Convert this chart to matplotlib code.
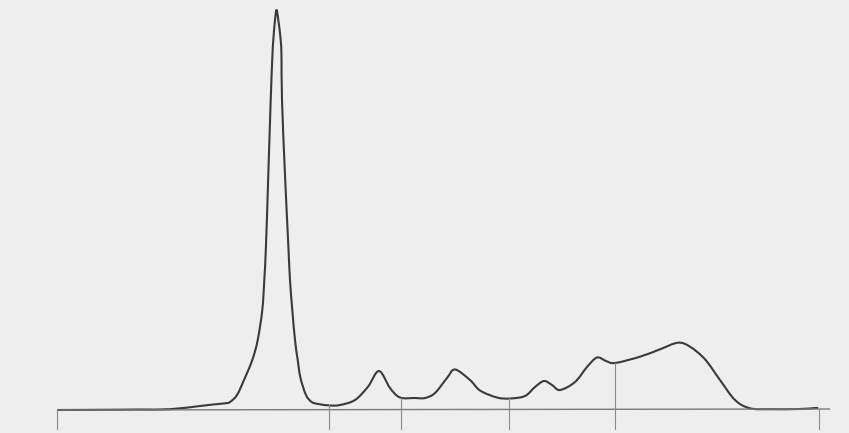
import numpy as np
import matplotlib
matplotlib.use("Agg")
import matplotlib.pyplot as plt
from matplotlib.path import Path
from matplotlib.patches import PathPatch

# Densitometry trace: position along strip (arbitrary units) and optical density
position = [0, 43, 83, 113, 143, 158, 168, 173, 180, 187, 195.3, 200.7, 205.3,
            207.3, 209, 211.3, 213.7, 215.3, 216.3, 218, 219.5, 221.3, 223.7,
            224.5, 225, 228, 231.3, 233, 235.3, 238, 240.7, 243.5, 249, 254.7,
            261.3, 273, 283, 298, 311, 322, 333, 343, 358, 368, 378, 390, 398,
            413, 423, 440, 453, 468, 478, 487, 495, 503, 518, 530, 540, 549, 558,
            583, 603, 621, 633, 648, 663, 678, 693, 713, 743, 758, 761]
density = [0, 0.2, 0.5, 0.8, 4, 5.7, 6.7, 8, 15, 30, 50, 70, 100, 130, 165, 235,
           310, 352, 370, 390, 400, 390, 370, 352, 310, 235, 165, 130, 100, 70,
           50, 32, 15, 8, 6, 4.5, 5, 10, 23.3, 39, 22, 12.5, 12, 12, 17, 32, 40.5,
           30, 19.5, 12.5, 11.5, 14, 23, 29, 25, 20, 28, 43, 52.5, 49, 47, 53.3,
           60.7, 67.3, 63.3, 50.7, 30, 10, 1.7, 0.8, 1, 2, 2]
# Fraction boundaries (positions of the divider marks)
boundaries = [0, 272, 344, 452, 558, 762]
baseline_end = 773

fig = plt.figure(figsize=(8.49, 4.33), dpi=100)
fig.patch.set_facecolor("#eeeeee")
ax = fig.add_axes([0, 0, 1, 1])
ax.set_facecolor("#eeeeee")
ax.set_xlim(-57, 792)
ax.set_ylim(-23, 410)
ax.axis("off")

# baseline
ax.plot([0, baseline_end], [0, 1], color="#7a7a7a", lw=1.0, solid_capstyle="butt")

# dividers
for b in boundaries:
    top = np.interp(b, position, density)
    if b in (boundaries[0], boundaries[-1]):
        top = 0
    ax.plot([b, b], [-19, top], color="#8a8a8a", lw=0.8)

# trace drawn as a smooth Bezier path through the read points (Catmull-Rom style)
P = np.column_stack([position, density]).astype(float)
n = len(P)
verts = [tuple(P[0])]
codes = [Path.MOVETO]
for i in range(n - 1):
    p0 = P[i - 1] if i > 0 else P[i]
    p1 = P[i]
    p2 = P[i + 1]
    p3 = P[i + 2] if i + 2 < n else P[i + 1]
    c1 = p1 + (p2 - p0) / 6.0
    c2 = p2 - (p3 - p1) / 6.0
    verts += [tuple(c1), tuple(c2), tuple(p2)]
    codes += [Path.CURVE4] * 3
ax.add_patch(PathPatch(Path(verts, codes), facecolor="none",
                       edgecolor="#3a3a3a", lw=1.5, joinstyle="round"))

fig.savefig("out.png", dpi=100, facecolor=fig.get_facecolor())
